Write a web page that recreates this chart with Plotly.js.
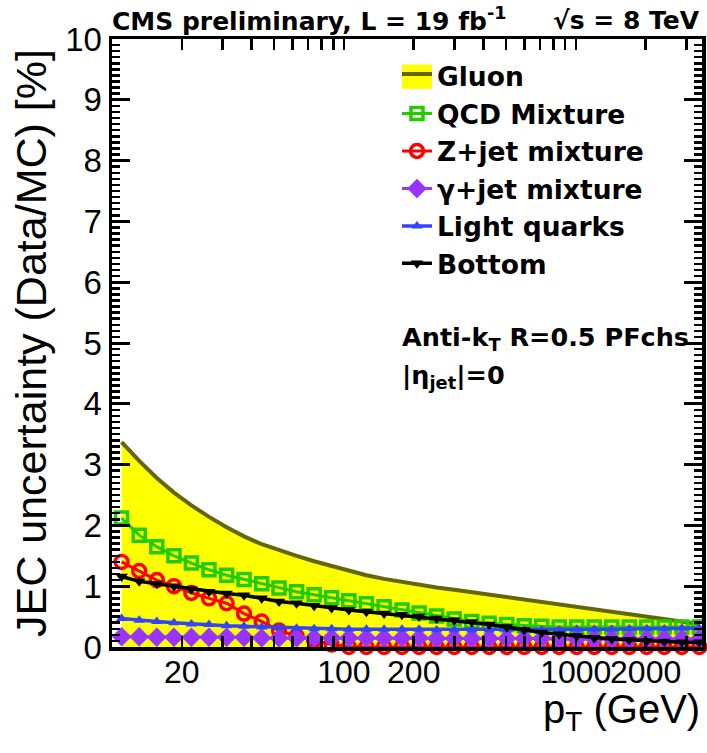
<!DOCTYPE html>
<html>
<head>
<meta charset="utf-8">
<script src="https://cdn.plot.ly/plotly-3.0.1.min.js"></script>
<style>html,body{margin:0;padding:0;background:#fff;}</style>
</head>
<body>
<div id="chart" style="width:707px;height:753px;"></div>
<script>
// pT values (GeV) of the plotted points
const pT = [11.0, 13.1, 15.6, 18.5, 22.0, 26.2, 31.2, 37.1, 44.2, 52.5, 62.5, 74.4, 88.5, 105, 125, 149, 178, 211, 251, 299, 356, 423, 504, 599, 713, 848, 1009, 1201, 1429, 1700, 2023, 2407, 2864, 3407];
// JEC uncertainty [%]
const gluon  = [3.37, 3.06, 2.78, 2.54, 2.33, 2.14, 1.97, 1.82, 1.69, 1.59, 1.50, 1.41, 1.33, 1.25, 1.18, 1.12, 1.07, 1.02, 0.98, 0.94, 0.90, 0.86, 0.82, 0.78, 0.74, 0.70, 0.66, 0.62, 0.59, 0.55, 0.51, 0.47, 0.43, 0.38];
const qcdMix = [2.12, 1.84, 1.65, 1.50, 1.38, 1.27, 1.18, 1.11, 1.04, 0.97, 0.91, 0.86, 0.81, 0.76, 0.71, 0.66, 0.61, 0.56, 0.51, 0.46, 0.42, 0.39, 0.37, 0.35, 0.34, 0.33, 0.33, 0.33, 0.33, 0.33, 0.33, 0.33, 0.33, 0.33];
const zjetMix = [1.40, 1.25, 1.10, 1.00, 0.89, 0.80, 0.72, 0.55, 0.42, 0.27, 0.18, 0.11, 0.04, 0, 0, 0, 0, 0, 0, 0, 0, 0, 0, 0, 0, 0, 0, 0, 0, 0, 0, 0, 0, 0];
const gjetMix = [0.17, 0.17, 0.16, 0.16, 0.16, 0.16, 0.16, 0.16, 0.15, 0.15, 0.15, 0.15, 0.15, 0.15, 0.15, 0.15, 0.15, 0.15, 0.14, 0.14, 0.14, 0.14, 0.14, 0.14, 0.14, 0.13, 0.13, 0.13, 0.13, 0.13, 0.13, 0.13, 0.13, 0.13];
const lightQ = [0.47, 0.44, 0.42, 0.40, 0.38, 0.37, 0.35, 0.34, 0.33, 0.32, 0.31, 0.30, 0.30, 0.29, 0.29, 0.29, 0.29, 0.29, 0.28, 0.28, 0.28, 0.28, 0.28, 0.28, 0.28, 0.28, 0.29, 0.29, 0.29, 0.30, 0.30, 0.30, 0.31, 0.31];
const bottom = [1.16, 1.08, 1.04, 1.00, 0.95, 0.91, 0.88, 0.85, 0.80, 0.75, 0.72, 0.68, 0.64, 0.61, 0.58, 0.55, 0.53, 0.50, 0.47, 0.44, 0.41, 0.37, 0.33, 0.28, 0.24, 0.21, 0.18, 0.15, 0.13, 0.12, 0.10, 0.09, 0.08, 0.08];

const seriesNames = ["Gluon", "QCD Mixture", "Z+jet mixture", "γ+jet mixture", "Light quarks", "Bottom"];
const xTickVals = [20, 100, 200, 1000, 2000];
const xTickText = ["20", "100", "200", "1000", "2000"];
const xMinorVals = [30, 40, 50, 60, 70, 80, 90, 300, 400, 500, 600, 700, 800, 900, 3000];
const xMajorVals = [100, 1000];

const FONT = "Liberation Sans, Arial, Helvetica, sans-serif";
const BFONT = "DejaVu Sans, Liberation Sans, Arial, sans-serif";
const xr = [Math.log10(10), Math.log10(3500)];

const traces = [
  {x: pT, y: gluon, name: seriesNames[0], type: "scatter", mode: "lines",
   fill: "tozeroy", fillcolor: "#ffff00", line: {color: "#666600", width: 4}},
  {x: pT, y: qcdMix, name: seriesNames[1], type: "scatter", mode: "lines+markers",
   line: {color: "#22cc00", width: 3}, marker: {symbol: "square-open", size: 12, color: "#22cc00", line: {width: 3.5, color: "#22cc00"}}},
  {x: pT, y: zjetMix, name: seriesNames[2], type: "scatter", mode: "lines+markers", cliponaxis: false,
   line: {color: "#ff0000", width: 3}, marker: {symbol: "circle-open", size: 13, color: "#ff0000", line: {width: 3.5, color: "#ff0000"}}},
  {x: pT, y: gjetMix, name: seriesNames[3], type: "scatter", mode: "lines+markers",
   line: {color: "#9933ff", width: 3}, marker: {symbol: "diamond", size: 15, color: "#9933ff"}},
  {x: pT, y: lightQ, name: seriesNames[4], type: "scatter", mode: "lines+markers",
   line: {color: "#3344ff", width: 3.5}, marker: {symbol: "triangle-up", size: 10, color: "#3344ff"}},
  {x: pT, y: bottom, name: seriesNames[5], type: "scatter", mode: "lines+markers",
   line: {color: "#000000", width: 3.5}, marker: {symbol: "triangle-down", size: 11, color: "#000000"}}
];

const layout = {
  width: 707, height: 753,
  margin: {l: 112, r: 5, t: 39, b: 106},
  paper_bgcolor: "#ffffff", plot_bgcolor: "#ffffff",
  font: {family: FONT, color: "#000"},
  showlegend: true,
  legend: {x: 0.483, y: 0.978, xanchor: "left", yanchor: "top", bgcolor: "rgba(0,0,0,0)",
    font: {family: BFONT, size: 26.5, color: "#000", weight: "bold"}, itemwidth: 30},
  title: {text: "CMS preliminary, L = 19 fb<sup>-1</sup>", xref: "paper", x: 0, xanchor: "left",
    yref: "container", y: 0.972, yanchor: "middle", font: {family: BFONT, size: 25, weight: "bold", color: "#000"}},
  xaxis: {type: "log", range: xr, tickmode: "array", tickvals: xTickVals, ticktext: xTickText, tickangle: 0,
    ticklabelstandoff: -6,
    ticks: "inside", ticklen: 11, tickwidth: 2.5, tickcolor: "#000",
    showline: true, linewidth: 3.5, linecolor: "#000", mirror: "allticks",
    showgrid: false, zeroline: false, tickfont: {family: FONT, size: 32, color: "#000"},
    minor: {tickmode: "array", tickvals: xMinorVals, ticks: "inside", ticklen: 11, tickwidth: 2.5, tickcolor: "#000", showgrid: false}},
  xaxis2: {type: "log", range: xr, overlaying: "x", anchor: "y", tickmode: "array", tickvals: xMajorVals,
    ticks: "inside", ticklen: 22, tickwidth: 3, tickcolor: "#000", showticklabels: false,
    showline: false, mirror: "allticks", showgrid: false, zeroline: false},
  yaxis: {range: [0, 10], dtick: 1, tick0: 0, ticks: "inside", ticklen: 18, tickwidth: 3, tickcolor: "#000",
    showline: true, linewidth: 3.5, linecolor: "#000", mirror: "allticks",
    showgrid: false, zeroline: false, tickfont: {family: FONT, size: 33, color: "#000"},
    title: {text: "JEC uncertainty (Data/MC) [%]", font: {family: FONT, size: 43, color: "#000"}, standoff: 6},
    minor: {dtick: 0.1, ticks: "inside", ticklen: 8, tickwidth: 2.5, tickcolor: "#000", showgrid: false}},
  shapes: [
    // legend swatch for the gluon band
    {type: "rect", xref: "paper", yref: "paper", x0: 0.4915, x1: 0.5424, y0: 0.918, y1: 0.958,
     fillcolor: "#ffff00", line: {width: 0}, layer: "above"}
  ],
  annotations: [
    {text: "√s = 8 TeV", xref: "paper", yref: "paper", x: 1.0, y: 1.0, xanchor: "right", yanchor: "bottom", yshift: 2,
     showarrow: false, font: {family: BFONT, size: 25, weight: "bold", color: "#000"}},
    {text: "Anti-k<sub>T</sub> R=0.5 PFchs", xref: "paper", yref: "paper", x: 0.488, y: 0.508, xanchor: "left", yanchor: "middle",
     showarrow: false, font: {family: BFONT, size: 25.5, weight: "bold", color: "#000"}},
    {text: "|η<sub>jet</sub>|=0", xref: "paper", yref: "paper", x: 0.488, y: 0.445, xanchor: "left", yanchor: "middle",
     showarrow: false, font: {family: BFONT, size: 25.5, weight: "bold", color: "#000"}},
    {text: "p<sub>T</sub> (GeV)", xref: "paper", yref: "paper", x: 1.0, y: 0, yshift: -38, xanchor: "right", yanchor: "top",
     showarrow: false, font: {family: FONT, size: 40, color: "#000"}}
  ]
};

Plotly.newPlot("chart", traces, layout, {displayModeBar: false, staticPlot: true});
</script>
</body>
</html>
